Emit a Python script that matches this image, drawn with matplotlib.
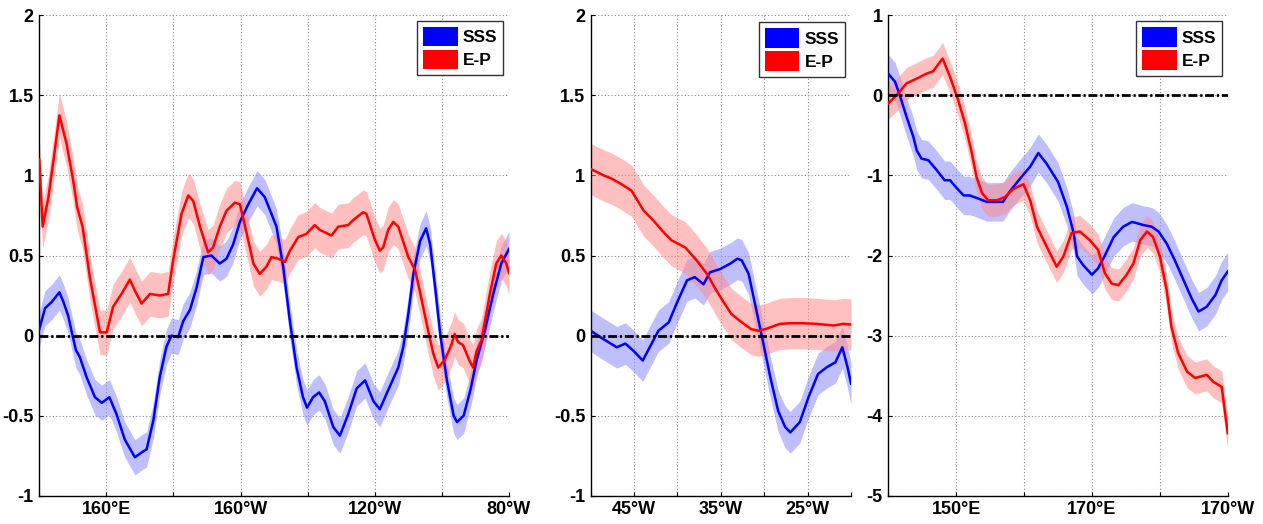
import matplotlib
matplotlib.use("Agg")
import matplotlib.pyplot as plt
from matplotlib.patches import Patch
import numpy as np

plt.rcParams['font.family'] = ['Liberation Sans', 'DejaVu Sans']
plt.rcParams['font.weight'] = 'bold'

# ---------------- Panel 1 (Pacific, 140E-80W) ----------------
p1_ep_lon = [140, 141, 142.7, 144.2, 146, 148.1, 150.1, 151.3, 152.9, 155.1, 158.1, 160.1, 162, 164.5, 167,
             168.5, 170.5, 173, 176, 178.4, 179.9, 182.4, 184.4, 185.9, 187.9, 190.3, 191.8, 193.8, 195.8,
             198.3, 199.8, 201.8, 203.8, 205.7, 207.7, 209.2, 211.2, 213.2, 214.7, 217.2, 219.6, 222.1, 223.6,
             227.1, 229.1, 232.1, 233.5, 236.5, 237.5, 240, 241.5, 242.5, 244, 245.5, 247, 250, 252, 253.4,
             255.9, 257.4, 258.9, 260.9, 262.8, 263.8, 264.8, 266.3, 268.3, 269.3, 270.3, 271.8, 274.3, 276.2,
             277.7, 279.2, 280]
p1_ep_val = [1.10, 0.68, 0.86, 1.09, 1.375, 1.20, 0.97, 0.80, 0.68, 0.36, 0.02, 0.02, 0.18, 0.26, 0.35,
             0.28, 0.20, 0.26, 0.25, 0.26, 0.47, 0.76, 0.875, 0.84, 0.68, 0.52, 0.55, 0.68, 0.78,
             0.83, 0.82, 0.64, 0.45, 0.385, 0.43, 0.49, 0.48, 0.46, 0.53, 0.615, 0.635, 0.69, 0.66,
             0.625, 0.68, 0.69, 0.72, 0.77, 0.76, 0.60, 0.53, 0.55, 0.66, 0.71, 0.68, 0.49, 0.41, 0.28,
             0.03, -0.11, -0.20, -0.15, -0.06, 0.01, -0.04, -0.06, -0.16, -0.20, -0.10, -0.03, 0.26, 0.45,
             0.50, 0.45, 0.39]
p1_sss_lon = [140, 141.7, 143.7, 146, 147.2, 148.6, 149.6, 150.9, 152.1, 154.1, 156.6, 158.6, 160.9, 163,
              165.5, 168.5, 170.5, 172, 174, 175.9, 177.9, 179.4, 181.4, 182.9, 184.9, 186.9, 188.9, 191.3,
              193.8, 195.8, 197.8, 199.8, 202.3, 204.9, 207.2, 209.2, 210.7, 212.7, 214.7, 216.7, 218.6,
              219.8, 221.6, 223.4, 225.1, 227.6, 229.6, 232.1, 234.6, 237.1, 239.6, 241.5, 244, 247, 248.5,
              250, 251.5, 253.5, 255.3, 256.5, 258, 259.5, 261.5, 263.5, 264.5, 266.5, 268.5, 270.4, 272.8,
              275.3, 277.7, 280]
p1_sss_val = [0.04, 0.17, 0.21, 0.27, 0.21, 0.125, 0.03, -0.09, -0.135, -0.26, -0.385, -0.42, -0.385, -0.49,
              -0.65, -0.76, -0.73, -0.71, -0.53, -0.26, -0.07, 0.0, -0.01, 0.09, 0.16, 0.30, 0.49, 0.50,
              0.45, 0.48, 0.57, 0.71, 0.82, 0.92, 0.865, 0.76, 0.68, 0.43, 0.09, -0.20, -0.385,
              -0.45, -0.385, -0.355, -0.41, -0.57, -0.625, -0.49, -0.33, -0.28, -0.41, -0.46, -0.34, -0.20, -0.07,
              0.135, 0.385, 0.59, 0.67, 0.57, 0.30, 0.01, -0.28, -0.50, -0.54, -0.50, -0.34, -0.15, 0.03,
              0.26, 0.45, 0.54]
p1_ep_err = 0.14
p1_sss_err = 0.11
p1_xticks = [140, 160, 180, 200, 220, 240, 260, 280]
p1_xlabels = ['', '160°E', '', '160°W', '', '120°W', '', '80°W']
p1_yticks = [-1, -0.5, 0, 0.5, 1, 1.5, 2]
p1_ylabels = ['-1', '-0.5', '0', '0.5', '1', '1.5', '2']

# ---------------- Panel 2 (Atlantic, 50W-20W) ----------------
p2_ep_lon = [-50, -48.5, -47.6, -46.6, -45.3, -43.9, -42.8, -41.6, -40.7, -39.1, -37.8, -36.6, -35.5, -34.7,
             -33.8, -32.6, -31.5, -30.7, -29.9, -28.2, -27.0, -25.5, -24.0, -22.0, -20.9, -20]
p2_ep_val = [1.04, 1.00, 0.98, 0.95, 0.905, 0.78, 0.72, 0.645, 0.595, 0.55, 0.47, 0.385, 0.28, 0.21,
             0.135, 0.083, 0.04, 0.03, 0.04, 0.073, 0.077, 0.077, 0.073, 0.063, 0.073, 0.069]
p2_sss_lon = [-50, -48.9, -47.0, -46.0, -45.1, -44.0, -43.2, -42.2, -41.0, -40.1, -38.9, -38.0, -37.0, -36.25,
              -35.1, -33.9, -33.1, -32.6, -31.8, -30.9, -30.1, -29.3, -28.4, -27.6, -27.0, -25.9, -24.9,
              -23.8, -22.8, -21.8, -21.0, -20.4, -20]
p2_sss_val = [0.03, -0.01, -0.073, -0.05, -0.094, -0.156, -0.073, 0.03, 0.083, 0.20, 0.345, 0.365, 0.32, 0.395,
              0.415, 0.45, 0.48, 0.47, 0.385, 0.156, -0.05, -0.26, -0.47, -0.57, -0.605, -0.54, -0.385,
              -0.24, -0.198, -0.167, -0.073, -0.198, -0.30]
p2_ep_err = 0.16
p2_sss_err = 0.13
p2_xticks = [-50, -45, -40, -35, -30, -25, -20]
p2_xlabels = ['', '45°W', '', '35°W', '', '25°W', '']
p2_yticks = [-1, -0.5, 0, 0.5, 1, 1.5, 2]
p2_ylabels = ['-1', '-0.5', '0', '0.5', '1', '1.5', '2']

# ---------------- Panel 3 (140E-170W) ----------------
p3_ep_lon = [140, 141.2, 142.7, 144.2, 145.6, 146.6, 148.0, 149.1, 150.3, 151.3, 152.3, 153.0, 153.8, 154.7,
             156.0, 157.2, 158.4, 159.9, 160.9, 161.9, 163.1, 164.8, 165.8, 167.0, 168.2, 169.7, 170.9,
             171.9, 172.9, 173.9, 175.1, 176.1, 177.1, 178.1, 179.0, 180.0, 181.0, 181.7, 182.7, 184.0,
             185.2, 186.9, 187.9, 189.1, 190]
p3_ep_val = [-0.10, 0.0, 0.15, 0.21, 0.27, 0.30, 0.46, 0.23, -0.06, -0.35, -0.72, -1.02, -1.22, -1.31,
             -1.31, -1.27, -1.17, -1.11, -1.31, -1.64, -1.85, -2.14, -2.01, -1.72, -1.70, -1.81, -1.93,
             -2.22, -2.35, -2.37, -2.24, -2.10, -1.81, -1.70, -1.77, -2.01, -2.43, -2.89, -3.22, -3.45,
             -3.53, -3.49, -3.58, -3.64, -4.22]
p3_sss_lon = [140, 141.0, 141.7, 142.7, 143.7, 144.2, 144.9, 145.9, 147.1, 148.3, 149.1, 150.1, 151.1, 152.0,
              153.3, 154.5, 156.0, 156.9, 157.9, 159.4, 160.9, 162.1, 163.3, 165.0, 166.3, 167.3, 167.8,
              168.7, 170.0, 170.9, 171.9, 173.2, 174.6, 175.9, 177.6, 178.8, 179.8, 181.0, 182.2, 183.5,
              184.7, 185.7, 186.9, 188.2, 189.1, 190]
p3_sss_val = [0.27, 0.17, 0.0, -0.27, -0.52, -0.69, -0.79, -0.81, -0.93, -1.06, -1.06, -1.16, -1.25, -1.25,
              -1.29, -1.33, -1.33, -1.33, -1.20, -1.04, -0.89, -0.72, -0.85, -1.08, -1.39, -1.72, -2.01,
              -2.12, -2.24, -2.16, -2.0, -1.77, -1.64, -1.58, -1.62, -1.64, -1.70, -1.85, -2.06, -2.31,
              -2.54, -2.70, -2.64, -2.49, -2.31, -2.20]
p3_ep_err = 0.2
p3_sss_err = 0.24
p3_xticks = [140, 150, 160, 170, 180, 190]
p3_xlabels = ['', '150°E', '', '170°E', '', '170°W']
p3_yticks = [-5, -4, -3, -2, -1, 0, 1]
p3_ylabels = ['-5', '-4', '-3', '-2', '-1', '0', '1']

series_names = ['SSS', 'E-P']

fig = plt.figure(figsize=(12.63, 5.24), dpi=100)
bottom, top = 0.054, 0.9708
rects = [(0.0311, 0.4030), (0.4677, 0.6738), (0.7033, 0.9721)]
panels = [
    (p1_sss_lon, p1_sss_val, p1_sss_err, p1_ep_lon, p1_ep_val, p1_ep_err, p1_xticks, p1_xlabels,
     p1_yticks, p1_ylabels, (0.988, 0.989)),
    (p2_sss_lon, p2_sss_val, p2_sss_err, p2_ep_lon, p2_ep_val, p2_ep_err, p2_xticks, p2_xlabels,
     p2_yticks, p2_ylabels, (0.978, 0.986)),
    (p3_sss_lon, p3_sss_val, p3_sss_err, p3_ep_lon, p3_ep_val, p3_ep_err, p3_xticks, p3_xlabels,
     p3_yticks, p3_ylabels, (0.984, 0.9875)),
]

for (l, r), pan in zip(rects, panels):
    (slon, sval, serr, elon, evl, eerr, xt, xl, yt, yl, anchor) = pan
    ax = fig.add_axes([l, bottom, r - l, top - bottom])
    slon = np.array(slon); sval = np.array(sval)
    elon = np.array(elon); evl = np.array(evl)
    ax.fill_between(slon, sval - serr, sval + serr, color=(0.55, 0.55, 1.0), alpha=0.55, lw=0, zorder=2)
    ax.fill_between(elon, evl - eerr, evl + eerr, color=(1.0, 0.55, 0.55), alpha=0.55, lw=0, zorder=2)
    ax.plot(slon, sval, color='blue', lw=1.8, zorder=4)
    ax.plot(elon, evl, color='red', lw=1.8, zorder=4)
    ax.axhline(0, color='black', lw=2.0, dashes=(3.2, 1.0, 0.8, 1.0), zorder=5)
    ax.set_xlim(xt[0], xt[-1])
    ax.set_ylim(yt[0], yt[-1])
    ax.set_xticks(xt)
    ax.set_xticklabels(xl, fontsize=13, fontweight='bold')
    ax.set_yticks(yt)
    ax.set_yticklabels(yl, fontsize=13, fontweight='bold')
    ax.grid(True, color='#888888', linestyle=(0, (1, 2)), lw=0.8)
    ax.set_axisbelow(True)
    for s in ['top', 'right']:
        ax.spines[s].set_visible(False)
    for s in ['left', 'bottom']:
        ax.spines[s].set_linewidth(1.0)
        ax.spines[s].set_color('black')
    ax.tick_params(direction='in', length=3, width=0.8, pad=4)
    handles = [Patch(facecolor='blue', edgecolor='none'), Patch(facecolor='red', edgecolor='none')]
    leg = ax.legend(handles, series_names, loc='upper right', bbox_to_anchor=anchor, borderaxespad=0,
                    fancybox=False, edgecolor='#333333', framealpha=1, handlelength=2.0, handleheight=1.35,
                    handletextpad=0.3, borderpad=0.35, labelspacing=0.2,
                    prop={'weight': 'bold', 'size': 12.5, 'family': 'Liberation Sans'})
    leg.get_frame().set_linewidth(1.0)
    leg.set_zorder(10)

fig.savefig('out.png', dpi=100)
